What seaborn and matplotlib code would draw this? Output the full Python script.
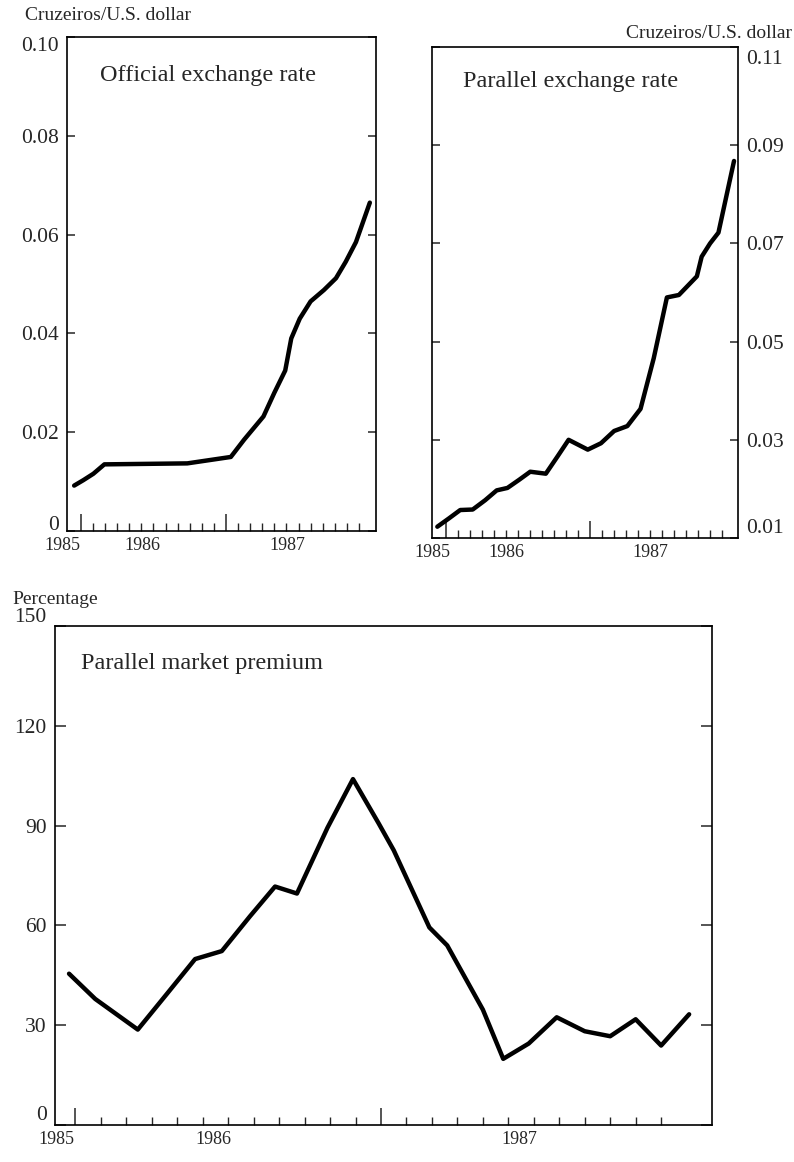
import matplotlib
matplotlib.use('Agg')
import matplotlib.pyplot as plt
import seaborn as sns
from matplotlib.ticker import FixedLocator, NullFormatter

sns.set_style('ticks')
plt.rcParams['font.family'] = ['Liberation Serif', 'DejaVu Serif']

# months counted from January 1986 (0 = Jan 1986)
official_month = [-0.56, 0.2, 1.03, 1.94, 8.8, 12.4, 13.5, 15.1, 16.0, 16.9,
                  17.4, 18.1, 19.0, 20.1, 21.1, 21.9, 22.75, 23.9]
official_rate = [0.0092, 0.0103, 0.0116, 0.0135, 0.0137, 0.0150, 0.0185, 0.0232,
                 0.0280, 0.0325, 0.0390, 0.0430, 0.0465, 0.0488, 0.0512, 0.0545,
                 0.0585, 0.0665]

parallel_month = [-0.75, 0.22, 1.16, 2.2, 3.24, 4.2, 5.1, 6.1, 7.0, 8.3, 9.3,
                  10.2, 11.8, 12.9, 14.0, 15.1, 16.2, 17.3, 18.4, 19.4, 20.9,
                  21.3, 22.0, 22.7, 24.0]
parallel_rate = [0.0123, 0.0140, 0.0157, 0.0158, 0.0177, 0.0197, 0.0202, 0.0219,
                 0.0235, 0.0231, 0.0267, 0.0300, 0.0280, 0.0293, 0.0318, 0.0328,
                 0.0363, 0.0466, 0.0590, 0.0595, 0.0633, 0.0673, 0.0700, 0.0722,
                 0.0868]

premium_month = [-0.25, 0.78, 2.45, 3.6, 4.7, 5.75, 6.86, 7.84, 8.7, 9.9, 10.9,
                 11.9, 12.5, 13.9, 14.6, 16.0, 16.8, 17.8, 18.9, 20.0, 21.0,
                 22.0, 23.0, 24.1]
premium_pct = [45.5, 37.9, 28.7, 39.5, 49.9, 52.3, 62.8, 71.7, 69.6, 89.4, 104.0,
               90.8, 82.6, 59.4, 54.0, 34.7, 19.9, 24.5, 32.4, 28.2, 26.7, 31.8,
               23.9, 33.3]

year_labels = ['1985', '1986', '1987']
year_pos_official = [-1.55, 5.07, 17.07]
year_pos_parallel = [-1.2, 5.0, 17.0]
year_pos_premium = [-0.75, 5.4, 17.45]

month_ticks = list(range(0, 24))
year_starts = [0, 12]

fig = plt.figure(figsize=(7.94, 11.62), dpi=100)


def style_axes(ax, xlim, ylim, yticks, ylabels, label_right, year_pos,
               ytick_len, end_dy):
    ax.set_xlim(*xlim)
    ax.set_ylim(*ylim)
    ax.set_xlabel('')
    ax.set_ylabel('')
    for s in ax.spines.values():
        s.set_visible(True)
        s.set_linewidth(1.2)
        s.set_color('black')
    ax.xaxis.set_major_locator(FixedLocator(year_starts))
    ax.xaxis.set_minor_locator(FixedLocator([m for m in month_ticks if m not in year_starts]))
    ax.xaxis.set_major_formatter(NullFormatter())
    ax.xaxis.set_minor_formatter(NullFormatter())
    ax.tick_params(axis='x', which='major', direction='in', length=12, width=1.1,
                   bottom=True, top=False)
    ax.tick_params(axis='x', which='minor', direction='in', length=6, width=1.0,
                   bottom=True, top=False)
    # the end labels sit a little inside the frame in the scan, so draw them by hand
    ax.set_yticks(yticks)
    ax.set_yticklabels([''] + ylabels[1:-1] + [''])
    ax.tick_params(axis='y', which='major', direction='in', length=ytick_len, width=1.1,
                   left=True, right=True, labelleft=not label_right,
                   labelright=label_right, labelsize=15.5, pad=6)
    xa = 1 if label_right else 0
    dx = 6 if label_right else -6
    ha = 'left' if label_right else 'right'
    for val, txt, dy in [(yticks[0], ylabels[0], end_dy[0]),
                         (yticks[-1], ylabels[-1], end_dy[1])]:
        ax.annotate(txt, xy=(xa, val), xycoords=('axes fraction', 'data'),
                    xytext=(dx, dy), textcoords='offset points',
                    ha=ha, va='center', fontsize=15.5)
    for lbl, pos in zip(year_labels, year_pos):
        ax.annotate(lbl, xy=(pos, 0), xycoords=('data', 'axes fraction'),
                    xytext=(0, -4), textcoords='offset points',
                    ha='center', va='top', fontsize=13)


# Official exchange rate
ax1 = fig.add_axes([0.0844, 0.543, 0.389, 0.425])
sns.lineplot(x=official_month, y=official_rate, ax=ax1, color='black',
             linewidth=3.2, estimator=None, sort=False)
style_axes(ax1, (-1.15, 24.4), (0, 0.10),
           [0, 0.02, 0.04, 0.06, 0.08, 0.10],
           ['0', '0.02', '0.04', '0.06', '0.08', '0.10'],
           False, year_pos_official, 6, (4, -7))
ax1.text(0.107, 0.923, 'Official exchange rate', transform=ax1.transAxes,
         ha='left', va='center', fontsize=17.5)

# Parallel exchange rate
ax2 = fig.add_axes([0.544, 0.537, 0.385, 0.4225])
sns.lineplot(x=parallel_month, y=parallel_rate, ax=ax2, color='black',
             linewidth=3.2, estimator=None, sort=False)
style_axes(ax2, (-1.2, 24.3), (0.01, 0.11),
           [0.01, 0.03, 0.05, 0.07, 0.09, 0.11],
           ['0.01', '0.03', '0.05', '0.07', '0.09', '0.11'],
           True, year_pos_parallel, 6, (7, -9))
ax2.text(0.10, 0.929, 'Parallel exchange rate', transform=ax2.transAxes,
         ha='left', va='center', fontsize=17.5)

# Parallel market premium
ax3 = fig.add_axes([0.0693, 0.0318, 0.8275, 0.4294])
sns.lineplot(x=premium_month, y=premium_pct, ax=ax3, color='black',
             linewidth=3.2, estimator=None, sort=False)
style_axes(ax3, (-0.8, 25.0), (0, 150),
           [0, 30, 60, 90, 120, 150],
           ['0', '30', '60', '90', '120', '150'],
           False, year_pos_premium, 8, (7, 6))
ax3.text(0.04, 0.926, 'Parallel market premium', transform=ax3.transAxes,
         ha='left', va='center', fontsize=17.5)

fig.text(0.031, 0.987, 'Cruzeiros/U.S. dollar', ha='left', va='center', fontsize=14)
fig.text(0.997, 0.971, 'Cruzeiros/U.S. dollar', ha='right', va='center', fontsize=14)
fig.text(0.016, 0.4845, 'Percentage', ha='left', va='center', fontsize=14)

fig.savefig('out.png', dpi=100)
